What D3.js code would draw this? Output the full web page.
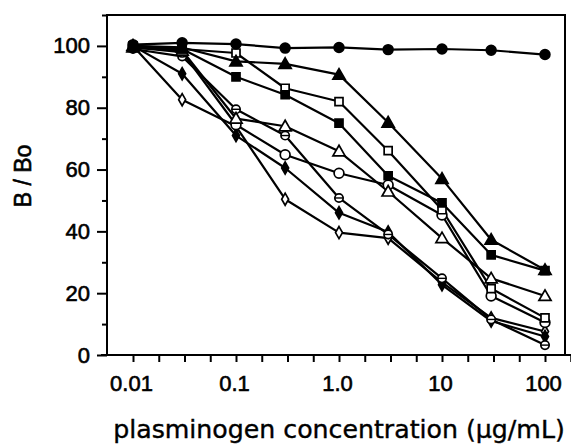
<!DOCTYPE html>
<html>
<head>
<meta charset="utf-8">
<script src="https://cdn.jsdelivr.net/npm/d3@7"></script>
<style>
  html, body { margin: 0; padding: 0; background: #fff; }
  svg { display: block; }
</style>
</head>
<body>
<svg id="chart" width="571" height="448"></svg>
<script>
// Plasminogen concentrations (µg/mL) sampled on a half-log series
const concentrations = [0.01, 0.03, 0.1, 0.3, 1, 3, 10, 30, 100];

// B/Bo (%) for each curve, one array per marker style
const filledCircle   = [100.4, 101, 100.6, 99.3, 99.5, 98.8, 99, 98.6, 97.2];
const filledTriangle = [100, 99.5, 95, 94.2, 90.7, 75.2, 57, 37.3, 27.5];
const openSquare     = [99.5, 99, 97.7, 86.3, 82, 66.1, 47, 21.5, 12];
const filledSquare   = [100, 99, 90, 84.2, 75, 58, 49.2, 32.4, 27.3];
const openTriangle   = [99.5, 98.5, 76.5, 74, 65.9, 52.9, 37.8, 24.8, 19.1];
const openCircle     = [99.5, 98, 74.5, 64.8, 58.8, 55, 45.3, 19.1, 10.5];
const barredCircle   = [99, 96.6, 79.5, 71, 50.8, 39, 24.8, 11.5, 3.2];
const filledDiamond  = [100, 91, 71, 60.5, 46, 39.8, 22.7, 11, 6];
const openDiamond    = [100, 82.6, 74, 50.4, 39.6, 37.8, 23.5, 12, 7.6];

const xTickLabels = ["0.01", "0.1", "1.0", "10", "100"];
const xTickValues = [0.01, 0.1, 1, 10, 100];
const yTickValues = [0, 20, 40, 60, 80, 100];

// Drawing order: later entries sit on top
const series = [
  { values: openDiamond,    marker: "diamond",  filled: false },
  { values: filledDiamond,  marker: "diamond",  filled: true },
  { values: barredCircle,   marker: "barred",   filled: false },
  { values: openCircle,     marker: "circle",   filled: false },
  { values: openTriangle,   marker: "triangle", filled: false },
  { values: openSquare,     marker: "square",   filled: false },
  { values: filledTriangle, marker: "triangle", filled: true },
  { values: filledSquare,   marker: "square",   filled: true },
  { values: filledCircle,   marker: "circle",   filled: true }
];

const svg = d3.select("#chart");
const frame = { left: 107, right: 565, top: 15, bottom: 355 };

const x = d3.scaleLog().domain([0.01, 100]).range([133, 545]);
const y = d3.scaleLinear().domain([0, 110]).range([frame.bottom, frame.top]);

const ink = "#000";
const font = "'Liberation Sans', Arial, sans-serif";

// Heavier glyphs for the labels
function inkText(sel, size) {
  sel.attr("font-family", font).attr("font-size", size)
    .attr("fill", ink).attr("stroke", ink).attr("stroke-width", 0.6);
}

// Plot frame
svg.append("rect")
  .attr("x", frame.left).attr("y", frame.top)
  .attr("width", frame.right - frame.left)
  .attr("height", frame.bottom - frame.top)
  .attr("fill", "none").attr("stroke", ink).attr("stroke-width", 2);

// Bottom axis line runs past the frame on both sides
svg.append("line")
  .attr("x1", 101).attr("x2", 571)
  .attr("y1", frame.bottom).attr("y2", frame.bottom)
  .attr("stroke", ink).attr("stroke-width", 2);

// X axis: ticks every quarter decade
const quarterTicks = d3.range(0, 18).map(k => Math.pow(10, -2 + k / 4));
svg.append("g").attr("transform", `translate(0,${frame.bottom})`)
  .call(d3.axisBottom(x).tickValues(quarterTicks).tickSize(7).tickFormat(""))
  .call(g => g.select(".domain").remove())
  .call(g => g.selectAll(".tick line").attr("stroke", ink).attr("stroke-width", 2));

svg.append("g").attr("transform", `translate(0,${frame.bottom})`)
  .call(d3.axisBottom(x).tickValues(xTickValues).tickSize(0).tickPadding(20)
    .tickFormat((d, i) => xTickLabels[i]))
  .call(g => g.select(".domain").remove())
  .call(g => g.selectAll("text").call(inkText, 22).attr("dx", -2));

// Y axis: major ticks every 20, minor ticks in between
const yMinor = d3.range(10, 120, 20);
svg.append("g").attr("transform", `translate(${frame.left},0)`)
  .call(d3.axisLeft(y).tickValues(yMinor).tickSize(5).tickFormat(""))
  .call(g => g.select(".domain").remove())
  .call(g => g.selectAll(".tick line").attr("stroke", ink).attr("stroke-width", 2));

svg.append("g").attr("transform", `translate(${frame.left},0)`)
  .call(d3.axisLeft(y).tickValues(yTickValues).tickSize(10).tickPadding(7))
  .call(g => g.select(".domain").remove())
  .call(g => g.selectAll(".tick line").attr("stroke", ink).attr("stroke-width", 2))
  .call(g => g.selectAll("text").call(inkText, 22));

// Axis titles
svg.append("text")
  .attr("transform", "translate(31,176) rotate(-90)")
  .attr("text-anchor", "middle")
  .call(inkText, 23)
  .text("B / Bo");

const xTitle = svg.append("text")
  .attr("x", 339).attr("y", 438)
  .attr("text-anchor", "middle")
  .attr("font-family", "'DejaVu Sans', Verdana, sans-serif").attr("font-size", 19)
  .attr("fill", ink).attr("stroke", ink).attr("stroke-width", 0.4)
  .text("plasminogen concentration (µg/mL)");
const titleWidth = xTitle.node().getComputedTextLength();
xTitle.attr("font-size", 19 * 452 / titleWidth);

// Curves
const line = d3.line().x((d, i) => x(concentrations[i])).y(d => y(d));
const curves = svg.append("g");
series.forEach(s => {
  curves.append("path")
    .attr("d", line(s.values))
    .attr("fill", "none").attr("stroke", ink)
    .attr("stroke-width", 2.2).attr("stroke-linejoin", "round");
});

// Markers
const symbolType = {
  circle: d3.symbolCircle,
  barred: d3.symbolCircle,
  square: d3.symbolSquare,
  triangle: d3.symbolTriangle,
  diamond: d3.symbolDiamond
};
const symbolSize = { circle: 75, barred: 55, square: 64, triangle: 64, diamond: 42 };

const markers = svg.append("g");
series.forEach(s => {
  const g = markers.append("g");
  s.values.forEach((v, i) => {
    const cx = x(concentrations[i]), cy = y(v);
    const dy = s.marker === "triangle" ? 1 : 0;
    g.append("path")
      .attr("transform", `translate(${cx},${cy + dy})`)
      .attr("d", d3.symbol().type(symbolType[s.marker]).size(symbolSize[s.marker])())
      .attr("fill", s.filled ? ink : "#fff")
      .attr("stroke", ink).attr("stroke-width", 1.7);
    if (s.marker === "barred") {
      g.append("line")
        .attr("x1", cx - 4).attr("x2", cx + 4)
        .attr("y1", cy).attr("y2", cy)
        .attr("stroke", ink).attr("stroke-width", 1.4);
    }
  });
});
</script>
</body>
</html>
